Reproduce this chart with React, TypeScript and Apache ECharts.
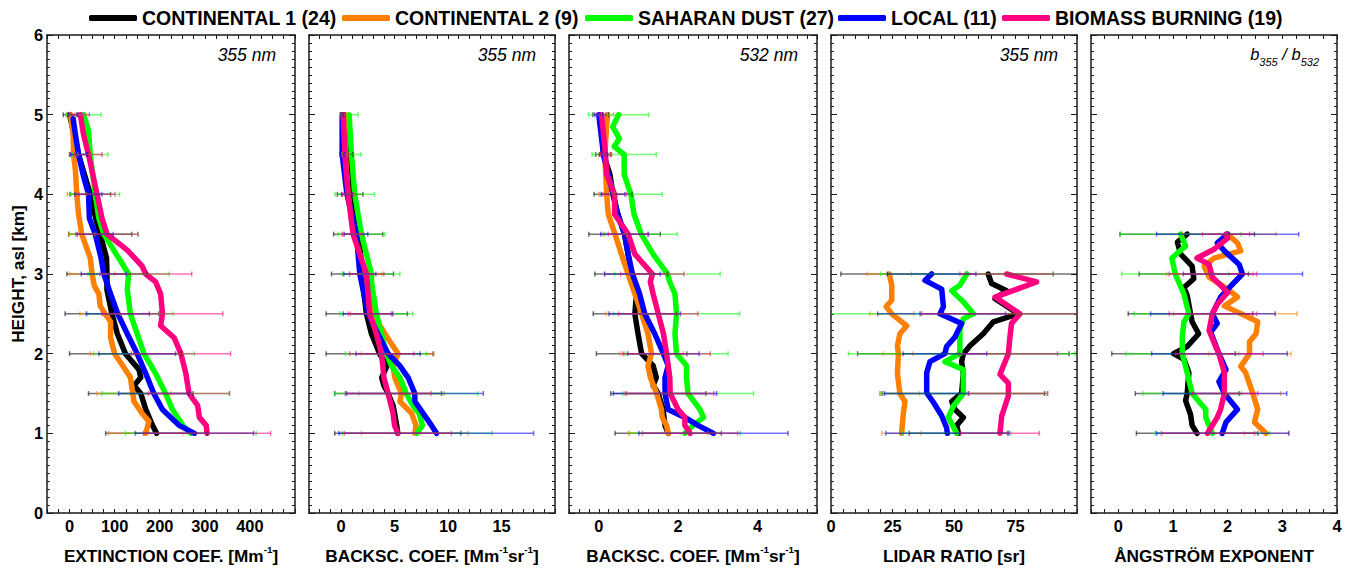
import React, { useEffect, useRef } from 'react';
import * as echarts from 'echarts';

// ---------------- DATA ----------------
const SERIES_NAMES = ['CONTINENTAL 1 (24)', 'CONTINENTAL 2 (9)', 'SAHARAN DUST (27)', 'LOCAL (11)', 'BIOMASS BURNING (19)'];
const COLORS = ['#000000', '#FF8000', '#00FF00', '#0000FF', '#FF0080'];

// profiles: [height km, value]
// Extinction coefficient 355 nm [Mm-1]
const ext_c1 = [[1,193],[1.1,184],[1.3,169],[1.5,158],[1.6,143],[1.7,158],[1.8,154],[2,124],[2.25,106],[2.5,94],[2.8,83],[3,83],[3.2,82],[3.5,68],[3.7,58],[4,46],[4.25,33],[4.5,20],[4.75,10],[5,0]];
const ext_c2 = [[1,169],[1.15,176],[1.25,161],[1.4,143],[1.55,139],[1.7,135],[1.85,118],[2,100],[2.2,91],[2.4,91],[2.5,79],[2.6,68],[2.75,65],[2.85,55],[3,50],[3.2,46],[3.5,27],[3.75,20],[4,16],[4.3,13],[4.5,9],[4.75,8],[5,2]];
const ext_sd = [[1,269],[1.1,251],[1.3,228],[1.5,213],[1.75,191],[2,165],[2.25,150],[2.5,135],[2.8,128],[3,131],[3.2,109],[3.5,76],[3.7,65],[4,57],[4.5,46],[4.8,42],[5,31]];
const ext_lo = [[1,277],[1.1,243],[1.3,206],[1.5,187],[1.75,169],[2,150],[2.25,128],[2.5,107],[2.75,91],[3,76],[3.2,70],[3.5,57],[3.7,44],[4,42],[4.25,30],[4.5,20],[4.75,13],[4.95,8]];
const ext_bb = [[1,305],[1.1,303],[1.2,288],[1.35,284],[1.5,265],[1.75,258],[2,247],[2.2,232],[2.35,202],[2.5,206],[2.75,202],[2.9,191],[3,169],[3.1,161],[3.3,128],[3.5,83],[3.7,72],[4,61],[4.5,42],[4.75,31],[5,24]];

// Backscatter coefficient 355 nm [Mm-1 sr-1]
const b355_c1 = [[1,5.3],[1.1,5.2],[1.25,5.0],[1.35,4.86],[1.5,4.4],[1.6,4.0],[1.7,3.8],[1.85,4.3],[2,3.6],[2.25,2.84],[2.5,2.37],[2.9,2.0],[3,2.06],[3.5,1.59],[4,0.85],[4.5,0.6],[5,0.2]];
const b355_c2 = [[1,6.9],[1.1,7.0],[1.25,6.6],[1.4,5.5],[1.5,5.65],[1.7,5.02],[1.85,4.86],[2,5.33],[2.25,4.09],[2.5,3.0],[3,2.3],[3.5,1.2],[4,0.65],[4.5,0.4],[5,0.3]];
const b355_sd = [[1,7.1],[1.1,7.6],[1.25,7.3],[1.35,6.7],[1.5,6.1],[1.7,5.5],[1.85,4.7],[2,4.24],[2.25,3.77],[2.5,3.3],[2.9,2.84],[3,2.84],[3.5,1.9],[4,1.28],[4.5,0.97],[5,0.75]];
const b355_lo = [[1,8.92],[1.1,8.45],[1.25,7.67],[1.4,6.9],[1.5,6.89],[1.7,6.27],[1.85,5.48],[2,4.4],[2.25,3.43],[2.5,2.53],[2.9,1.9],[3,1.75],[3.5,1.43],[4,0.55],[4.5,0.1],[5,0.1]];
const b355_bb = [[1,5.3],[1.1,5.0],[1.25,4.86],[1.5,4.4],[1.7,4.0],[1.85,3.9],[2,3.77],[2.25,3.3],[2.5,2.68],[3,2.37],[3.5,1.12],[4,0.65],[4.5,0.35],[5,0.2]];

// Backscatter coefficient 532 nm [Mm-1 sr-1]
const b532_c1 = [[1,1.75],[1.1,1.67],[1.3,1.62],[1.5,1.5],[1.6,1.37],[1.7,1.45],[1.85,1.37],[2,1.08],[2.25,0.99],[2.5,0.91],[2.75,0.95],[3,0.82],[3.25,0.74],[3.5,0.65],[3.75,0.48],[4,0.36],[4.25,0.28],[4.5,0.12],[5,0.05]];
const b532_c2 = [[1,1.75],[1.1,1.71],[1.2,1.6],[1.3,1.58],[1.5,1.46],[1.7,1.3],[1.85,1.24],[2,1.33],[2.25,1.24],[2.5,1.08],[2.75,0.91],[3,0.74],[3.25,0.57],[3.5,0.41],[3.75,0.24],[4,0.2],[4.5,0.15],[5,0.22]];
const b532_sd = [[1,2.17],[1.1,2.38],[1.2,2.64],[1.3,2.55],[1.5,2.25],[1.7,2.21],[1.85,2.21],[2,1.96],[2.25,1.92],[2.5,1.96],[2.75,1.92],[2.9,1.79],[3,1.73],[3.25,1.37],[3.5,1.07],[3.75,0.89],[4,0.81],[4.25,0.64],[4.5,0.64],[4.6,0.39],[4.7,0.52],[4.85,0.35],[5,0.5]];
const b532_lo = [[1,2.89],[1.1,2.5],[1.2,2.17],[1.3,1.75],[1.5,1.67],[1.7,1.67],[1.85,1.75],[2,1.63],[2.25,1.41],[2.5,1.16],[2.75,1.03],[3,0.85],[3.25,0.74],[3.5,0.65],[3.75,0.48],[4,0.36],[4.5,0.12],[5,0]];
const b532_bb = [[1,2.3],[1.1,2.17],[1.2,2.17],[1.3,2.0],[1.5,1.8],[1.7,1.79],[1.85,1.75],[2,1.71],[2.25,1.63],[2.5,1.5],[2.75,1.37],[2.9,1.3],[3,1.35],[3.25,0.91],[3.5,0.74],[3.75,0.4],[4,0.4],[4.25,0.2],[4.5,0.17],[5,0.07]];

// Lidar ratio 355 nm [sr]
const lr_c1 = [[1,51.8],[1.1,51.1],[1.2,53.8],[1.3,50.4],[1.4,49.1],[1.5,53.1],[1.75,53.8],[1.9,53.1],[2,53.8],[2.1,56.5],[2.25,61.9],[2.4,66],[2.5,76.2],[2.69,66.7],[2.79,71.4],[2.88,65.3],[3,63.9]];
const lr_c2 = [[1,28.7],[1.25,29.4],[1.4,30.1],[1.5,28],[1.75,27],[2,27.4],[2.1,27],[2.25,28],[2.35,30.8],[2.5,24.7],[2.59,22.4],[2.67,24.7],[2.86,24.7],[3,23.7]];
const lr_sd = [[1,51.1],[1.2,47.7],[1.34,49.7],[1.5,53.8],[1.8,53.8],[1.9,46.3],[2,52.4],[2.3,52.4],[2.44,53.8],[2.5,57.9],[2.65,53.8],[2.79,49.1],[2.86,52.4],[3,55.2]];
const lr_lo = [[1,47.3],[1.07,47],[1.22,45],[1.39,41.6],[1.51,38.9],[1.76,38.9],[1.9,40.2],[2,46.3],[2.09,47],[2.21,50.4],[2.38,53.1],[2.5,44.3],[2.59,45.7],[2.81,45],[2.92,38.2],[3,40.9]];
const lr_bb = [[1,68.7],[1.22,69.4],[1.47,72.1],[1.63,72.1],[1.74,68.7],[2,72.1],[2.23,72.8],[2.38,73.4],[2.5,76.8],[2.71,66.7],[2.9,83.6],[3,71.4]];

// Angstrom exponent b355/b532
const ae_c1 = [[1,1.44],[1.1,1.35],[1.24,1.32],[1.41,1.23],[1.5,1.26],[1.76,1.29],[1.93,1.2],[2,1.01],[2.09,1.26],[2.25,1.47],[2.4,1.35],[2.5,1.32],[2.73,1.26],[2.83,1.2],[2.94,1.38],[3.1,1.35],[3.25,1.14],[3.4,1.08],[3.5,1.26]];
const ae_c2 = [[1,2.7],[1.14,2.49],[1.3,2.55],[1.5,2.46],[1.76,2.33],[1.84,2.24],[2,2.4],[2.15,2.4],[2.25,2.52],[2.4,2.55],[2.6,1.94],[2.71,2.18],[2.81,2.0],[2.96,1.66],[3.1,1.57],[3.2,1.75],[3.29,2.24],[3.39,2.18],[3.5,2.0]];
const ae_sd = [[1,1.72],[1.2,1.6],[1.3,1.6],[1.5,1.35],[1.76,1.26],[2,1.17],[2.21,1.17],[2.4,1.2],[2.5,1.29],[2.75,1.2],[3,1.04],[3.2,0.98],[3.35,1.23],[3.5,1.14]];
const ae_lo = [[1,1.9],[1.14,1.97],[1.3,2.18],[1.4,2.06],[1.5,1.94],[1.65,1.84],[1.8,1.97],[2,1.84],[2.27,1.69],[2.38,1.81],[2.5,1.72],[2.71,1.87],[2.85,2.06],[3,2.27],[3.12,2.21],[3.29,1.94],[3.39,1.81],[3.5,2.0]];
const ae_bb = [[1,1.63],[1.2,1.81],[1.3,1.87],[1.5,1.94],[1.76,1.94],[2,1.84],[2.09,1.78],[2.29,1.66],[2.5,1.72],[2.62,1.81],[2.77,2.0],[2.96,1.72],[3.12,1.66],[3.2,1.44],[3.31,1.75],[3.45,2.0],[3.5,1.97]];

// error bar heights and [low, high] ranges
const ERR_H_FULL = [1, 1.5, 2, 2.5, 3, 3.5, 4, 4.5, 5];
const ERR_H_LR = [1, 1.5, 2, 2.5, 3];
const ERR_H_AE = [1, 1.5, 2, 2.5, 3, 3.5];

const ext_err_c1 = [[80,306],[42,274],[0,248],[-10,198],[-6,172],[-2,138],[1,91],[0,40],[-14,16]];
const ext_err_c2 = [[87,251],[61,225],[46,142],[23,113],[0,100],[-2,56],[-5,37],[0,18],[-8,12]];
const ext_err_sd = [[124,414],[72,354],[53,277],[40,230],[41,221],[0,152],[3,111],[7,85],[-8,70]];
const ext_err_lo = [[146,408],[109,265],[65,235],[37,177],[26,126],[17,97],[12,72],[2,38],[-2,18]];
const ext_err_bb = [[164,446],[175,355],[137,357],[72,340],[67,271],[14,152],[21,101],[12,72],[4,44]];

const b355_err_c1 = [[-0.6,11.2],[-0.6,9.4],[-1.4,8.6],[-1.4,6.2],[-0.9,4.9],[-0.7,3.9],[-0.35,2.05],[0.1,1.1],[0,0.4]];
const b355_err_c2 = [[1.9,11.9],[1.65,9.65],[1.9,8.7],[0.9,4.9],[0.8,3.8],[0.2,1.8],[0.05,1.25],[0.1,0.7],[0.1,0.5]];
const b355_err_sd = [[0.1,14.1],[-0.6,12.8],[0.4,8.0],[-0.1,6.7],[0.1,5.5],[-0.3,4.1],[-0.57,3.13],[0.07,1.87],[-0.1,1.6]];
const b355_err_lo = [[-0.2,18.0],[0.5,13.3],[1.4,7.4],[0.2,4.8],[0.25,3.25],[0.3,2.5],[0.05,1.05],[-0.1,0.3],[0,0.2]];
const b355_err_bb = [[0.3,10.3],[0.4,8.4],[0.8,6.8],[0.7,4.7],[0.8,4.0],[0.1,2.1],[0.15,1.15],[0.05,0.65],[0,0.4]];

const b532_err_c1 = [[0.41,3.09],[0.3,2.7],[-0.06,2.22],[-0.14,1.96],[-0.1,1.74],[-0.25,1.55],[-0.12,0.84],[-0.08,0.32],[-0.15,0.25]];
const b532_err_c2 = [[0.75,2.75],[0.66,2.26],[0.53,2.13],[0.18,1.98],[0.14,1.34],[0.11,0.71],[0,0.4],[0,0.3],[0.07,0.37]];
const b532_err_sd = [[0.77,3.57],[0.6,3.9],[0.66,3.26],[0.37,3.55],[0.4,3.06],[0.16,1.98],[0.02,1.6],[-0.17,1.45],[-0.26,1.26]];
const b532_err_lo = [[1.01,4.77],[0.37,2.97],[0.73,2.53],[0.26,2.06],[0.15,1.55],[0.05,1.25],[0.06,0.66],[0.02,0.22],[-0.1,0.1]];
const b532_err_bb = [[1.1,3.5],[0.7,2.9],[0.61,2.81],[0.5,2.5],[0.55,2.15],[0.24,1.24],[0.1,0.7],[0.05,0.29],[-0.03,0.17]];

const lr_err_c1 = [[31.8,71.8],[20.8,86.8],[10.8,96.8],[36.2,116.2],[4,124]];
const lr_err_c2 = [[20.6,36.6],[20,36],[21.3,33.3],[15.7,33.7],[14.7,32.7]];
const lr_err_sd = [[29.1,73.1],[19.8,87.8],[7.1,99.1],[-7.1,122.9],[20.2,90.2]];
const lr_err_lo = [[22.3,72.3],[21.8,55.8],[29.3,63.3],[19,71],[22.9,58.9]];
const lr_err_bb = [[52.7,84.7],[56.1,88.1],[52.1,92.1],[36.9,116.9],[52.4,90.4]];

const ae_err_c1 = [[0.33,2.55],[0.31,2.21],[-0.12,2.14],[0.18,2.46],[0.38,2.38],[0.03,2.49]];
const ae_err_c2 = [[2.31,3.11],[1.97,2.97],[1.66,3.16],[1.01,3.27],[0.88,2.46],[1.17,2.89]];
const ae_err_sd = [[0.67,2.77],[0.45,2.25],[0.14,2.2],[0.29,2.29],[0.06,2.02],[0.04,2.24]];
const ae_err_lo = [[0.7,3.12],[0.82,3.08],[0.61,3.09],[0.59,2.87],[1.19,3.37],[0.7,3.3]];
const ae_err_bb = [[0.79,2.49],[1.35,2.55],[1.05,2.65],[0.93,2.53],[0.93,2.53],[1.54,2.4]];

// axis tick labels
const EXT_LABELS = [0, 100, 200, 300, 400];
const B355_LABELS = [0, 5, 10, 15];
const B532_LABELS = [0, 2, 4];
const LR_LABELS = [0, 25, 50, 75];
const AE_LABELS = [0, 1, 2, 3, 4];
const HEIGHT_LABELS = [0, 1, 2, 3, 4, 5, 6];

// ---------------- LAYOUT ----------------
const PANEL_LEFT = [47, 309, 569, 831, 1091];
const PANEL_WIDTH = [248, 246, 248, 246, 246];
const PLOT_TOP = 35;
const PLOT_HEIGHT = 486;
const LEGEND_LEFT = [84, 337, 580, 833, 997];

function hasFont(name: string): boolean {
  try {
    const ctx = document.createElement('canvas').getContext('2d');
    if (!ctx) return false;
    const s = 'CONTINENTAL mmm 123 WiW';
    ctx.font = 'bold 40px monospace';
    const a = ctx.measureText(s).width;
    ctx.font = `bold 40px "${name}", monospace`;
    const b = ctx.measureText(s).width;
    return Math.abs(a - b) > 0.5;
  } catch (e) {
    return false;
  }
}

export default function App() {
  const ref = useRef<HTMLDivElement>(null);
  useEffect(() => {
    document.body.style.margin = '0';
    if (!ref.current) return;
    const narrow = hasFont('Liberation Sans Narrow');
    const FONT = narrow ? '"Liberation Sans Narrow", "Arial Narrow", sans-serif' : '"Liberation Sans", Arial, sans-serif';
    const k = narrow ? 1 : 0.82;
    const LBL = 20 * k;
    const TTL = 21 * k;
    const LEG = 23.8 * k;

    const chart = echarts.init(ref.current, undefined, { renderer: 'svg' });

    const supRich = {
      sup: { fontSize: 12 * k, fontWeight: 'bold', fontFamily: FONT, color: '#000', verticalAlign: 'top', lineHeight: 24 },
    };

    const panels = [
      { profiles: [ext_c1, ext_c2, ext_sd, ext_lo, ext_bb], errH: ERR_H_FULL, errs: [ext_err_c1, ext_err_c2, ext_err_sd, ext_err_lo, ext_err_bb], min: -50, max: 500, interval: 25, labels: EXT_LABELS, title: 'EXTINCTION COEF. [Mm{sup|-1}]' },
      { profiles: [b355_c1, b355_c2, b355_sd, b355_lo, b355_bb], errH: ERR_H_FULL, errs: [b355_err_c1, b355_err_c2, b355_err_sd, b355_err_lo, b355_err_bb], min: -3, max: 20, interval: 1, labels: B355_LABELS, title: 'BACKSC. COEF. [Mm{sup|-1}sr{sup|-1}]' },
      { profiles: [b532_c1, b532_c2, b532_sd, b532_lo, b532_bb], errH: ERR_H_FULL, errs: [b532_err_c1, b532_err_c2, b532_err_sd, b532_err_lo, b532_err_bb], min: -0.75, max: 5.5, interval: 0.25, labels: B532_LABELS, title: 'BACKSC. COEF. [Mm{sup|-1}sr{sup|-1}]' },
      { profiles: [lr_c1, lr_c2, lr_sd, lr_lo, lr_bb], errH: ERR_H_LR, errs: [lr_err_c1, lr_err_c2, lr_err_sd, lr_err_lo, lr_err_bb], min: 0, max: 100, interval: 5, labels: LR_LABELS, title: 'LIDAR RATIO [sr]' },
      { profiles: [ae_c1, ae_c2, ae_sd, ae_lo, ae_bb], errH: ERR_H_AE, errs: [ae_err_c1, ae_err_c2, ae_err_sd, ae_err_lo, ae_err_bb], min: -0.5, max: 4, interval: 0.25, labels: AE_LABELS, title: '\u00C5NGSTR\u00D6M EXPONENT' },
    ];

    const axisLineStyle = { color: '#1a1a1a', width: 1.5 };
    const grid: any[] = [];
    const xAxis: any[] = [];
    const yAxis: any[] = [];
    const series: any[] = [];

    panels.forEach((p, i) => {
      grid.push({ left: PANEL_LEFT[i], top: PLOT_TOP, width: PANEL_WIDTH[i], height: PLOT_HEIGHT, containLabel: false });
      const common = {
        gridIndex: i, type: 'value', min: p.min, max: p.max, interval: p.interval,
        axisLine: { show: true, onZero: false, lineStyle: axisLineStyle },
        axisTick: { show: true, inside: true, length: 4, lineStyle: { color: '#1a1a1a', width: 1 } },
        splitLine: { show: false },
      };
      xAxis.push({
        ...common,
        position: 'bottom',
        axisLabel: {
          show: true, margin: 5, fontSize: LBL, fontWeight: 'bold', fontFamily: FONT, color: '#000',
          formatter: (v: number) => (p.labels.some((l) => Math.abs(l - v) < 1e-9) ? String(v) : ''),
        },
        name: p.title, nameLocation: 'middle', nameGap: 31,
        nameTextStyle: { fontSize: TTL, fontWeight: 'bold', fontFamily: FONT, color: '#000', lineHeight: 24, rich: supRich },
      });
      xAxis.push({ ...common, position: 'top', axisLabel: { show: false } });
      const ycommon = {
        gridIndex: i, type: 'value', min: 0, max: 6, interval: 1,
        axisLine: { show: true, onZero: false, lineStyle: axisLineStyle },
        axisTick: { show: true, inside: true, length: 6, lineStyle: { color: '#1a1a1a', width: 1 } },
        minorTick: { show: true, splitNumber: 10, length: 3, lineStyle: { color: '#1a1a1a', width: 1 } },
        splitLine: { show: false },
        minorSplitLine: { show: false },
      };
      yAxis.push({
        ...ycommon,
        position: 'left',
        axisLabel: i === 0 ? {
          show: true, margin: 4, fontSize: LBL, fontWeight: 'bold', fontFamily: FONT, color: '#000',
          formatter: (v: number) => (HEIGHT_LABELS.indexOf(v) >= 0 ? String(v) : ''),
        } : { show: false },
        name: i === 0 ? 'HEIGHT, asl [km]' : '',
        nameLocation: 'middle', nameGap: 21,
        nameTextStyle: { fontSize: TTL, fontWeight: 'bold', fontFamily: FONT, color: '#000' },
      });
      yAxis.push({ ...ycommon, position: 'right', axisLabel: { show: false } });

      p.profiles.forEach((prof, s) => {
        series.push({
          type: 'line', name: SERIES_NAMES[s], xAxisIndex: 2 * i, yAxisIndex: 2 * i,
          data: prof.map((d) => [d[1], d[0]]),
          showSymbol: false, symbol: 'none', smooth: false, z: 2 + s,
          color: COLORS[s],
          lineStyle: { color: COLORS[s], width: 5.5, cap: 'round', join: 'round' },
          itemStyle: { color: COLORS[s] },
        });
      });
      p.errs.forEach((err, s) => {
        const color = COLORS[s];
        series.push({
          type: 'custom', name: 'err-' + i + '-' + s, xAxisIndex: 2 * i, yAxisIndex: 2 * i,
          data: err.map((e, j) => [p.errH[j], e[0], e[1]]),
          encode: { x: [1, 2], y: 0 }, clip: true, z: 10,
          renderItem: (params: any, api: any) => {
            const h = api.value(0);
            const a = api.coord([api.value(1), h]);
            const b = api.coord([api.value(2), h]);
            const style = { stroke: color, lineWidth: 1.5, opacity: 0.55 };
            return {
              type: 'group',
              children: [
                { type: 'line', shape: { x1: a[0], y1: a[1], x2: b[0], y2: b[1] }, style },
                { type: 'line', shape: { x1: a[0], y1: a[1] - 2.5, x2: a[0], y2: a[1] + 2.5 }, style },
                { type: 'line', shape: { x1: b[0], y1: b[1] - 2.5, x2: b[0], y2: b[1] + 2.5 }, style },
              ],
            };
          },
        });
      });
    });

    const notes = ['355 nm', '355 nm', '532 nm', '355 nm'];
    const graphic: any[] = notes.map((t, i) => ({
      type: 'text', right: 1352 - (PANEL_LEFT[i] + PANEL_WIDTH[i] - 19), top: 46, z: 20,
      style: { text: t, fill: '#000', font: 'italic 17.5px "Liberation Sans", Arial, sans-serif' },
    }));
    graphic.push({
      type: 'text', right: 1352 - 1319, top: 45, z: 20,
      style: {
        text: '{b|b}{s|355}{b| / b}{s|532}', fill: '#000',
        rich: {
          b: { fontSize: 16.5, fontStyle: 'italic', fontFamily: '"Liberation Sans", Arial, sans-serif', color: '#000', lineHeight: 22, verticalAlign: 'top' },
          s: { fontSize: 11, fontStyle: 'italic', fontFamily: '"Liberation Sans", Arial, sans-serif', color: '#000', lineHeight: 22, verticalAlign: 'bottom' },
        },
      },
    });

    const legend = SERIES_NAMES.map((n, s) => ({
      data: [{ name: n, icon: 'roundRect' }],
      left: LEGEND_LEFT[s], top: 3, itemWidth: 48, itemHeight: 6, itemGap: 3,
      textStyle: { fontSize: LEG, fontWeight: 'bold', fontFamily: FONT, color: '#000' },
      selectedMode: false,
    }));

    chart.setOption({
      animation: false,
      backgroundColor: '#ffffff',
      legend,
      grid, xAxis, yAxis, series, graphic,
    });
    return () => chart.dispose();
  }, []);
  return <div ref={ref} style={{ width: 1352, height: 573 }} />;
}
